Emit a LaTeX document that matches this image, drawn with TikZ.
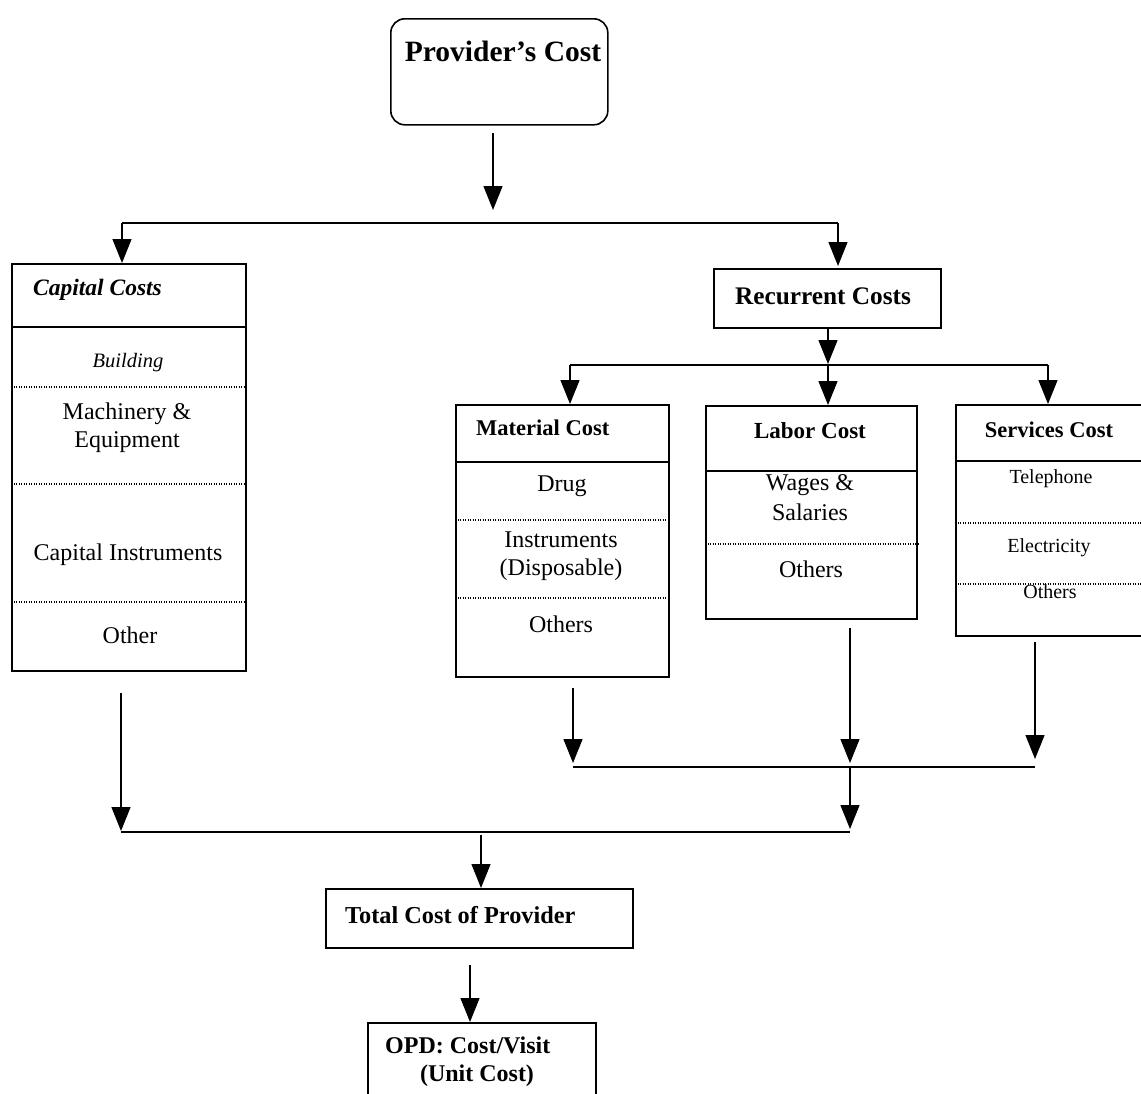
\documentclass[tikz,border=0pt]{standalone}
\usepackage{fontspec}
\setmainfont{Liberation Serif}
\usetikzlibrary{arrows.meta}
\newcommand{\fsz}[1]{\fontsize{#1}{28}\selectfont}
\begin{document}
\begin{tikzpicture}[x=1pt,y=-1pt,
  box/.style={draw, line width=1.6pt, inner sep=0pt, anchor=north west},
  conn/.style={line width=1.4pt},
  arr/.style={line width=1.4pt, -{Triangle[width=19pt,length=24pt]}},
  sep/.style={line width=1.4pt},
  dots/.style={line width=1.2pt, dash pattern=on 1.2pt off 1.3pt},
  hd/.style={font=\fsz{22.5}\bfseries, anchor=base west, inner sep=0pt},
  hdc/.style={font=\fsz{22.5}\bfseries, anchor=base, inner sep=0pt},
  txt/.style={font=\fsz{24}, anchor=base, inner sep=0pt, align=center},
  stxt/.style={font=\fsz{20}, anchor=base, inner sep=0pt}
]
\useasboundingbox (0,0) rectangle (1141,1093);

% Provider's cost
\node[box, rounded corners=14pt, minimum width=217pt, minimum height=106pt] (prov) at (390,18) {};
\node[font=\fsz{29.5}\bfseries, anchor=base, inner sep=0pt] (provt) at (503,61) {Provider’s Cost};

% Capital costs
\node[box, minimum width=234pt, minimum height=407pt] (cap) at (11,263) {};
\draw[sep] (cap.west |- 0,327) -- (cap.east |- 0,327);
\draw[dots] (cap.west |- 0,387) -- (cap.east |- 0,387);
\draw[dots] (cap.west |- 0,484) -- (cap.east |- 0,484);
\draw[dots] (cap.west |- 0,602) -- (cap.east |- 0,602);
\node[hd, font=\fsz{23.5}\bfseries\itshape] (capt) at (33,295) {Capital Costs};
\node[stxt, font=\fsz{20.5}\itshape] (cap1) at (128,367) {Building};
\node[txt] (cap2) at (127,447) {Machinery \&\\Equipment};
\node[txt] (cap3) at (128,560) {Capital Instruments};
\node[txt] (cap4) at (130,643) {Other};

% Recurrent costs
\node[box, minimum width=227pt, minimum height=59pt] (rec) at (713,268) {};
\node[hdc, font=\fsz{25.3}\bfseries] (rect) at (823,304) {Recurrent Costs};

% Material cost
\node[box, minimum width=213pt, minimum height=272pt] (mat) at (455,404) {};
\draw[sep] (mat.west |- 0,462) -- (mat.east |- 0,462);
\draw[dots] (mat.west |- 0,520) -- (mat.east |- 0,520);
\draw[dots] (mat.west |- 0,598) -- (mat.east |- 0,598);
\node[hd] (matt) at (476,435) {Material Cost};
\node[txt] (mat1) at (562,491) {Drug};
\node[txt] (mat2) at (561,575) {Instruments\\(Disposable)};
\node[txt] (mat3) at (561,632) {Others};

% Labor cost
\node[box, minimum width=211pt, minimum height=213pt] (lab) at (705,405) {};
\draw[sep] (lab.west |- 0,471) -- (lab.east |- 0,471);
\draw[dots] (lab.west |- 0,544) -- (lab.east |- 0,544);
\node[hdc, font=\fsz{23}\bfseries] (labt) at (810,438) {Labor Cost};
\node[txt, font=\fontsize{24}{30}\selectfont] (lab1) at (810,520) {Wages \&\\Salaries};
\node[txt] (lab2) at (811,577) {Others};

% Services cost
\node[box, minimum width=195pt, minimum height=231pt] (ser) at (955,404) {};
\draw[sep] (ser.west |- 0,461) -- (ser.east |- 0,461);
\draw[dots] (ser.west |- 0,523) -- (ser.east |- 0,523);
\draw[dots] (ser.west |- 0,584) -- (ser.east |- 0,584);
\node[hdc] (sert) at (1049,437) {Services Cost};
\node[stxt] (ser1) at (1051,483) {Telephone};
\node[stxt] (ser2) at (1049,552) {Electricity};
\node[stxt] (ser3) at (1050,598) {Others};

% Total cost
\node[box, minimum width=307pt, minimum height=59pt] (tot) at (325,888) {};
\node[hd, font=\fsz{24.3}\bfseries] (tott) at (345,923) {Total Cost of Provider};

% OPD
\node[box, minimum width=228pt, minimum height=80pt] (opd) at (367,1022) {};
\node[hd, font=\fsz{24}\bfseries] (opd1) at (385,1053) {OPD: Cost/Visit};
\node[hdc, font=\fsz{24}\bfseries] (opd2) at (477,1081) {(Unit Cost)};

% connector coordinates
\coordinate (p0) at (493,133);
\coordinate (p1) at (493,210);
\coordinate (hL) at (122,223);
\coordinate (hR) at (838,223);
\coordinate (r0) at (828,327);
\coordinate (r1) at (828,364);
\coordinate (sL) at (570,365);
\coordinate (sM) at (828,365);
\coordinate (sR) at (1048,365);
\coordinate (m0) at (573,688);
\coordinate (m1) at (573,763);
\coordinate (l0) at (850,628);
\coordinate (l1) at (850,763);
\coordinate (v0) at (1035,642);
\coordinate (v1) at (1035,759);
\coordinate (bL) at (573,767);
\coordinate (bR) at (1035,767);
\coordinate (b0) at (850,767);
\coordinate (b1) at (850,829);
\coordinate (c0) at (121,693);
\coordinate (c1) at (121,831);
\coordinate (tL) at (121,832);
\coordinate (tR) at (850,832);
\coordinate (t0) at (481,835);
\coordinate (o0) at (470,965);

% connectors
\draw[arr] (p0) -- (p1);
\draw[conn] (hL) -- (hR);
\draw[arr] (hL) -- (hL |- cap.north);
\draw[arr] (hR) -- (838,266);
\draw[arr] (r0) -- (r1);
\draw[conn] (sL) -- (sR);
\draw[arr] (sL) -- (sL |- mat.north);
\draw[arr] (sM) -- (sM |- lab.north);
\draw[arr] (sR) -- (sR |- ser.north);
\draw[arr] (m0) -- (m1);
\draw[arr] (l0) -- (l1);
\draw[arr] (v0) -- (v1);
\draw[conn] (bL) -- (bR);
\draw[arr] (b0) -- (b1);
\draw[arr] (c0) -- (c1);
\draw[conn] (tL) -- (tR);
\draw[arr] (t0) -- (t0 |- tot.north);
\draw[arr] (o0) -- (o0 |- opd.north);
\end{tikzpicture}
\end{document}
